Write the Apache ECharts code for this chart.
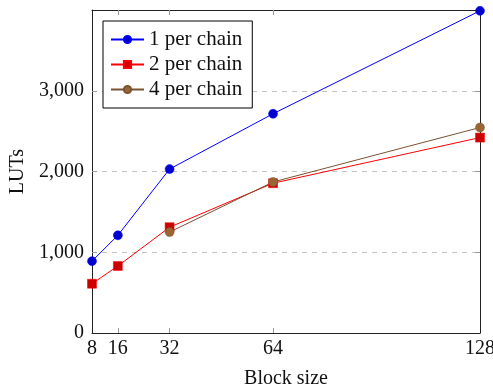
<!DOCTYPE html>
<html>
<head>
<meta charset="utf-8">
<script src="https://cdn.jsdelivr.net/npm/echarts@6/dist/echarts.min.js"></script>
<style>
html,body{margin:0;padding:0;background:#fff;}
#chart{width:493px;height:392px;}
</style>
</head>
<body>
<div id="chart"></div>
<script>
const seriesNames = ['1 per chain', '2 per chain', '4 per chain'];
const blockSizes1 = [8, 16, 32, 64, 128];
const luts1 = [890, 1210, 2030, 2715, 3990];
const blockSizes2 = [8, 16, 32, 64, 128];
const luts2 = [610, 830, 1310, 1855, 2420];
const blockSizes4 = [32, 64, 128];
const luts4 = [1250, 1870, 2545];
const xTickValues = [8, 16, 32, 64, 128];
const yTickValues = [0, 1000, 2000, 3000];

function pair(xs, ys) { return xs.map((x, i) => [x, ys[i]]); }
function fmt(v) { return String(v).replace(/\B(?=(\d{3})+(?!\d))/g, ','); }

const FONT = 'Liberation Serif';
const chart = echarts.init(document.getElementById('chart'), null, {renderer: 'canvas'});
const lineColor = '#222';
const tickColor = '#999';

chart.setOption({
  animation: false,
  textStyle: {fontFamily: FONT},
  grid: {left: 92, right: 13, top: 10, bottom: 59, containLabel: false, outerBoundsMode: 'none'},
  legend: {
    orient: 'vertical', left: 103, top: 21,
    padding: [7, 10, 7, 7], itemWidth: 33, itemHeight: 9, itemGap: 2,
    borderColor: '#000', borderWidth: 1, backgroundColor: '#fff',
    textStyle: {fontFamily: FONT, fontSize: 21, color: '#111', lineHeight: 23},
    data: seriesNames
  },
  xAxis: [{
    type: 'value', min: 8, max: 128, position: 'bottom',
    name: 'Block size', nameLocation: 'middle', nameGap: 36,
    nameTextStyle: {fontFamily: FONT, fontSize: 20, color: '#111'},
    axisLine: {show: true, lineStyle: {color: lineColor, width: 1}},
    axisTick: {show: true, inside: true, length: 5, customValues: [16, 32, 64], lineStyle: {color: tickColor}},
    axisLabel: {customValues: xTickValues, fontFamily: FONT, fontSize: 20, color: '#111', margin: 6, formatter: v => String(v)},
    splitLine: {show: false}
  }, {
    type: 'value', min: 8, max: 128, position: 'top',
    axisLine: {show: true, onZero: false, lineStyle: {color: lineColor, width: 1}},
    axisTick: {show: true, inside: true, length: 5, customValues: [16, 32, 64], lineStyle: {color: tickColor}},
    axisLabel: {show: false},
    splitLine: {show: false}
  }],
  yAxis: [{
    type: 'value', min: 0, max: 4000, interval: 1000, position: 'left',
    name: 'LUTs', nameLocation: 'middle', nameGap: 52, nameRotate: 90,
    nameTextStyle: {fontFamily: FONT, fontSize: 20, color: '#111'},
    axisLine: {show: true, lineStyle: {color: lineColor, width: 1}},
    axisTick: {show: true, inside: true, length: 5, customValues: [1000, 2000, 3000], lineStyle: {color: tickColor}},
    axisLabel: {customValues: yTickValues, fontFamily: FONT, fontSize: 20, color: '#111', margin: 8, formatter: v => fmt(v)},
    splitLine: {show: true, lineStyle: {color: '#c4c4c4', type: [5, 5], width: 1}}
  }, {
    type: 'value', min: 0, max: 4000, interval: 1000, position: 'right',
    axisLine: {show: true, onZero: false, lineStyle: {color: lineColor, width: 1}},
    axisTick: {show: true, inside: true, length: 5, customValues: [1000, 2000, 3000], lineStyle: {color: tickColor}},
    axisLabel: {show: false},
    splitLine: {show: false}
  }],
  series: [{
    name: seriesNames[0], type: 'line', data: pair(blockSizes1, luts1),
    symbol: 'circle', symbolSize: 9,
    lineStyle: {color: '#0000ff', width: 1},
    itemStyle: {color: '#0000cc', borderColor: '#0000ff', borderWidth: 0.5}
  }, {
    name: seriesNames[1], type: 'line', data: pair(blockSizes2, luts2),
    symbol: 'rect', symbolSize: 9,
    lineStyle: {color: '#ff0000', width: 1},
    itemStyle: {color: '#cc0000', borderColor: '#ff0000', borderWidth: 0.5}
  }, {
    name: seriesNames[2], type: 'line', data: pair(blockSizes4, luts4),
    symbol: 'circle', symbolSize: 9,
    lineStyle: {color: '#7a5230', width: 1},
    itemStyle: {color: '#996633', borderColor: '#7a5230', borderWidth: 0.5}
  }]
});
</script>
</body>
</html>
